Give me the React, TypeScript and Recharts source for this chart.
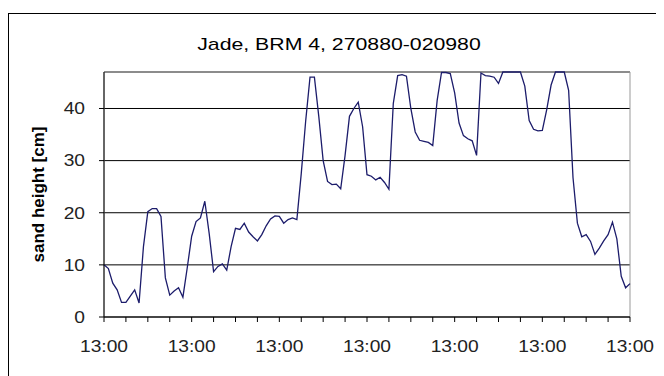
import React from "react";
import {
  LineChart,
  Line,
  XAxis,
  YAxis,
  CartesianGrid,
  ReferenceArea
} from "recharts";

// sand height readings, evenly spaced over the record
const sandHeight: number[] = [
  10, 9.3, 6.5, 5.2, 2.8, 2.8, 4, 5.2, 2.7, 13.5,
  20.2, 20.8, 20.8, 19.3, 7.5, 4.2, 5, 5.6, 3.8, 9.5,
  15.5, 18.3, 19, 22.2, 16, 8.7, 9.7, 10.2, 9, 13.5,
  17, 16.8, 18, 16.3, 15.4, 14.6, 15.8, 17.5, 18.8, 19.4,
  19.3, 18, 18.7, 19, 18.7, 27.5, 37.5, 46, 46, 38.5,
  30, 26, 25.4, 25.5, 24.6, 31, 38.5, 40, 41.2, 36.5,
  27.3, 27, 26.3, 26.8, 25.8, 24.5, 41, 46.3, 46.5, 46.2,
  40, 35.5, 33.9, 33.7, 33.5, 32.9, 41.5, 46.9, 46.9, 46.7,
  43, 37.2, 34.8, 34.2, 33.8, 31, 46.8, 46.3, 46.2, 46,
  44.8, 47, 47, 47, 47, 47, 44.3, 37.7, 36, 35.7,
  35.8, 39.8, 44.5, 47, 47, 47, 43.5, 26.7, 18, 15.4,
  15.8, 14.5, 12, 13.2, 14.6, 15.8, 18.2, 15, 7.8, 5.6,
  6.4
];

const xTicks = [0, 5, 10, 15, 20, 25, 30, 35, 40, 45, 50, 55, 60, 65, 70, 75, 80, 85, 90, 95, 100, 105, 110, 115, 120];
const xLabel = "13:00";
const yTicks = [0, 10, 20, 30, 40];

const data = sandHeight.map((v, i) => ({ t: i, h: v }));

const font = "'Liberation Sans', Arial, sans-serif";

// the source picture is a bit wide, so labels get stretched sideways
const XTick = (props: any) => {
  const { x, y, payload } = props;
  if (payload.value % 20 !== 0) return <g />;
  return (
    <g transform={`translate(${x},${y}) scale(1.2,1)`}>
      <text x={0} y={0} dy="0.71em" textAnchor="middle" fontSize={16} fill="#222" fontFamily={font}>
        {xLabel}
      </text>
    </g>
  );
};

const YTick = (props: any) => {
  const { x, y, payload } = props;
  return (
    <g transform={`translate(${x},${y}) scale(1.2,1)`}>
      <text x={0} y={0} dy="0.36em" textAnchor="end" fontSize={16} fill="#222" fontFamily={font}>
        {payload.value}
      </text>
    </g>
  );
};

export default function App() {
  return (
    <div
      style={{
        position: "relative",
        marginTop: 5,
        width: 660,
        height: 370,
        border: "1px solid #000",
        background: "#fff",
        fontFamily: font
      }}
    >
      <div
        style={{
          position: "absolute",
          top: 21,
          left: 0,
          width: 660,
          textAlign: "center",
          fontSize: 17,
          color: "#000",
          transform: "scaleX(1.25)"
        }}
      >
        Jade, BRM 4, 270880-020980
      </div>
      <LineChart
        width={660}
        height={360}
        data={data}
        margin={{ top: 58, right: 39, left: 0, bottom: 17 }}
      >
        <ReferenceArea x1={0} x2={120} y1={0} y2={47} fill="none" stroke="#999" />
        <CartesianGrid vertical={false} stroke="#000" />
        <XAxis
          dataKey="t"
          type="number"
          domain={[0, 120]}
          ticks={xTicks}
          interval={0}
          stroke="#000"
          tickSize={5}
          tickMargin={19}
          height={40}
          tick={<XTick />}
        />
        <YAxis
          type="number"
          domain={[0, 47]}
          ticks={yTicks}
          interval={0}
          stroke="#000"
          tickSize={5}
          tickMargin={14}
          width={95}
          tick={<YTick />}
          label={{
            value: "sand height [cm]",
            angle: -90,
            position: "insideLeft",
            offset: 29,
            style: { textAnchor: "middle", fontWeight: "bold", fontSize: 17, fill: "#000", fontFamily: font }
          }}
        />
        <Line
          type="linear"
          dataKey="h"
          stroke="#1c1c6b"
          strokeWidth={1.3}
          dot={false}
          isAnimationActive={false}
        />
      </LineChart>
    </div>
  );
}
